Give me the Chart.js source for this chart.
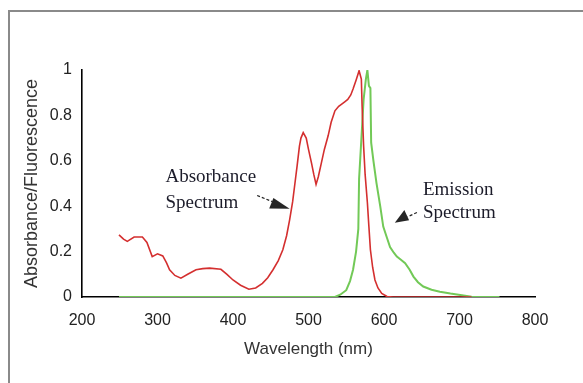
<!DOCTYPE html>
<html>
<head>
<meta charset="utf-8">
<script src="https://cdn.jsdelivr.net/npm/chart.js@4.4.1/dist/chart.umd.min.js"></script>
<style>
html,body{margin:0;padding:0;background:#fff;}
#wrap{position:relative;width:583px;height:383px;}
</style>
</head>
<body>
<div id="wrap"><canvas id="c" width="583" height="383"></canvas></div>
<script>
// Absorbance spectrum (nm, normalized value)
const absWavelength = [
  249,255,260,269,280,286,293,300,307,312,
  316,323,331,340,351,360,369,384,392,400,
  410,421,430,439,446,453,460,466,471,475,
  479,482,485,488,490,493,497,500,504,507,
  510,513,517,521,526,530,535,540,544,548,
  552,556,559,563,567,570,571,573,575,578,
  580,582,585,588,592,597,604,612,640,680,
  716
];
const absValue = [
  0.274,0.255,0.245,0.264,0.264,0.24,0.178,0.19,0.181,0.15,
  0.12,0.095,0.083,0.1,0.12,0.125,0.127,0.122,0.1,0.075,
  0.052,0.034,0.04,0.06,0.085,0.12,0.16,0.208,0.27,0.34,
  0.42,0.5,0.58,0.665,0.7,0.724,0.70,0.65,0.59,0.54,
  0.496,0.53,0.59,0.65,0.71,0.77,0.82,0.84,0.85,0.86,
  0.87,0.89,0.916,0.955,0.997,0.96,0.84,0.665,0.54,0.415,
  0.31,0.208,0.13,0.075,0.04,0.016,0.002,0,0,0,
  0
];
// Emission spectrum
const emWavelength = [
  249,535,542,550,555,559,563,566,567,570,
  573,576,578,580,582,583,586,590,595,599,
  604,608,613,617,622,628,634,639,645,652,
  663,674,688,701,716,753
];
const emValue = [
  0,0,0.01,0.03,0.07,0.12,0.2,0.3,0.52,0.695,
  0.87,0.96,1.0,0.93,0.92,0.68,0.6,0.503,0.4,0.31,
  0.26,0.22,0.195,0.178,0.165,0.149,0.12,0.09,0.065,0.046,
  0.032,0.023,0.015,0.009,0.001,0
];
const xTicks = [200,300,400,500,600,700,800];
const yTicks = [0,0.2,0.4,0.6,0.8,1];
const xTitle = 'Wavelength (nm)';
const yTitle = 'Absorbance/Fluorescence';

// annotations (data coordinates)
const notes = [
  {lines:['Absorbance','Spectrum'], x:310.5, y:[0.527,0.416], tail:[432,0.447], tip:[475,0.389], head:19},
  {lines:['Emission','Spectrum'], x:651.5, y:[0.473,0.372], tail:[643.6,0.372], tip:[614.3,0.327], head:14}
];

const toPts = (xs, ys) => xs.map((x,i)=>({x:x, y:ys[i]}));

const framePlugin = {
  id:'frame',
  beforeDraw(chart){
    const ctx = chart.ctx;
    ctx.save();
    ctx.fillStyle = '#fff';
    ctx.fillRect(0,0,chart.width,chart.height);
    ctx.strokeStyle = '#8a8a8a';
    ctx.lineWidth = 2;
    ctx.beginPath();
    ctx.moveTo(9, chart.height);
    ctx.lineTo(9, 11);
    ctx.lineTo(chart.width, 11);
    ctx.stroke();
    ctx.restore();
  }
};

const notePlugin = {
  id:'notes',
  afterDatasetsDraw(chart){
    const ctx = chart.ctx, xs = chart.scales.x, ys = chart.scales.y;
    ctx.save();
    ctx.font = '19px "Liberation Serif", "Times New Roman", serif';
    ctx.textBaseline = 'middle';
    ctx.textAlign = 'left';
    notes.forEach(n=>{
      ctx.fillStyle = '#1c1c2a';
      n.lines.forEach((t,i)=>{
        ctx.fillText(t, xs.getPixelForValue(n.x), ys.getPixelForValue(n.y[i]));
      });
      const tx = xs.getPixelForValue(n.tail[0]), ty = ys.getPixelForValue(n.tail[1]);
      const px = xs.getPixelForValue(n.tip[0]), py = ys.getPixelForValue(n.tip[1]);
      const dx = px-tx, dy = py-ty, len = Math.hypot(dx,dy);
      const ux = dx/len, uy = dy/len;
      const bx = px-ux*n.head, by = py-uy*n.head;
      ctx.strokeStyle = '#222';
      ctx.lineWidth = 1.2;
      ctx.setLineDash([3,2]);
      ctx.beginPath();
      ctx.moveTo(tx,ty);
      ctx.lineTo(bx,by);
      ctx.stroke();
      ctx.setLineDash([]);
      const w = 7.5;
      ctx.fillStyle = '#262626';
      ctx.beginPath();
      ctx.moveTo(px,py);
      ctx.lineTo(bx - uy*w, by + ux*w);
      ctx.lineTo(bx + uy*w*0.5, by - ux*w*0.5);
      ctx.closePath();
      ctx.fill();
    });
    ctx.restore();
  }
};

new Chart(document.getElementById('c'), {
  type:'line',
  data:{
    datasets:[
      {label:'Absorbance', data:toPts(absWavelength, absValue), borderColor:'#d42f2f', borderWidth:1.6, pointRadius:0, tension:0, fill:false, order:0},
      {label:'Emission', data:toPts(emWavelength, emValue), borderColor:'#72c957', borderWidth:2, pointRadius:0, tension:0, fill:false, order:1}
    ]
  },
  options:{
    responsive:false,
    animation:false,
    events:[],
    layout:{padding:{left:0, right:48, top:70, bottom:0}},
    plugins:{legend:{display:false}, tooltip:{enabled:false}},
    scales:{
      x:{
        type:'linear', min:200, max:800,
        afterBuildTicks(s){ s.ticks = xTicks.map(v=>({value:v})); },
        afterFit(s){ s.height = 86; },
        grid:{display:false, drawTicks:false},
        border:{display:true, color:'#000', width:1.6},
        ticks:{padding:14, color:'#222', font:{family:'"Liberation Sans", Arial, sans-serif', size:16}, maxRotation:0},
        title:{display:true, text:xTitle, color:'#333', font:{family:'"Liberation Sans", Arial, sans-serif', size:17}, padding:{top:0,bottom:23}}
      },
      y:{
        min:0, max:1,
        afterBuildTicks(s){ s.ticks = yTicks.map(v=>({value:v})); },
        afterFit(s){ s.width = 82; },
        grid:{display:false, drawTicks:false},
        border:{display:true, color:'#000', width:1.6},
        ticks:{padding:10, color:'#222', font:{family:'"Liberation Sans", Arial, sans-serif', size:16}, callback:v=>String(v)},
        title:{display:true, text:yTitle, color:'#333', font:{family:'"Liberation Sans", Arial, sans-serif', size:18}, padding:{top:21,bottom:0}}
      }
    }
  },
  plugins:[framePlugin, notePlugin]
});
</script>
</body>
</html>
